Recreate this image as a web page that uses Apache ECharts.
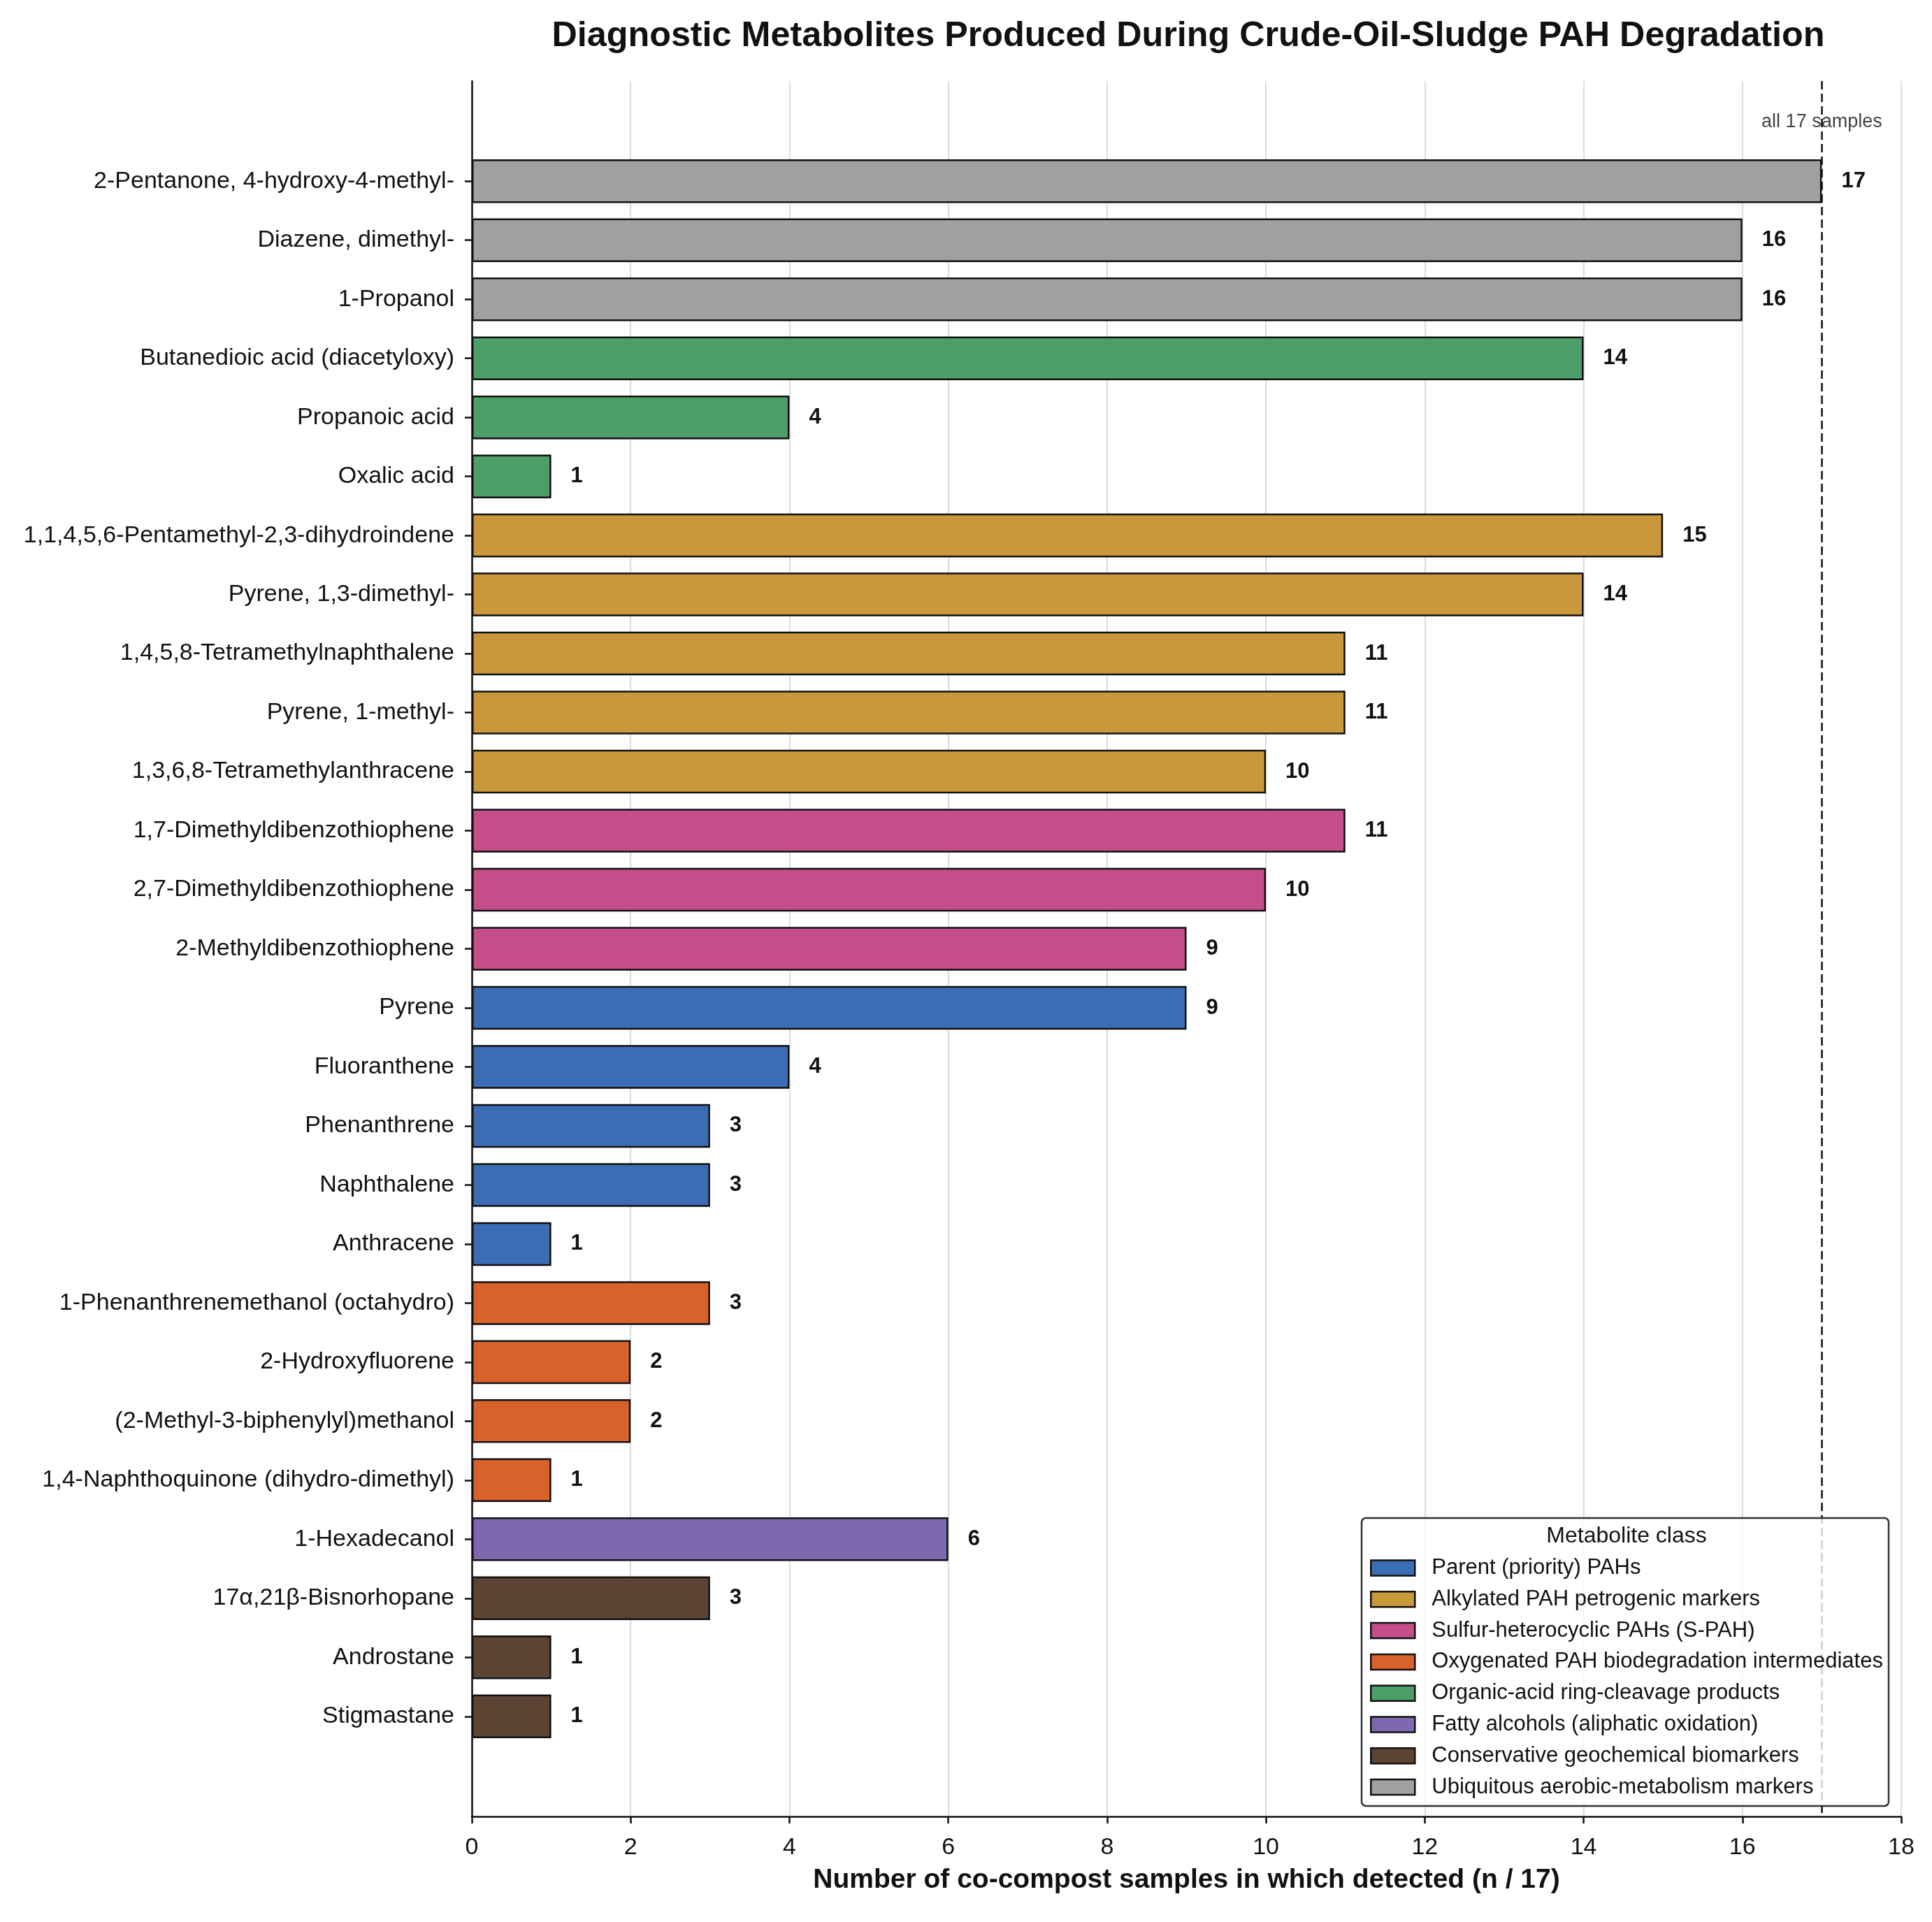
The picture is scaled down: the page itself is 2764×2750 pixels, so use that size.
<!DOCTYPE html>
<html>
<head>
<meta charset="utf-8">
<title>Diagnostic Metabolites</title>
<script src="https://cdn.jsdelivr.net/npm/echarts@6/dist/echarts.min.js"></script>
<style>
  html, body { margin: 0; padding: 0; background: #fff; }
  #chart { width: 2764px; height: 2750px; }
</style>
</head>
<body>
<div id="chart"></div>
<script>
// metabolites, top to bottom
var categories = [
  "2-Pentanone, 4-hydroxy-4-methyl-",
  "Diazene, dimethyl-",
  "1-Propanol",
  "Butanedioic acid (diacetyloxy)",
  "Propanoic acid",
  "Oxalic acid",
  "1,1,4,5,6-Pentamethyl-2,3-dihydroindene",
  "Pyrene, 1,3-dimethyl-",
  "1,4,5,8-Tetramethylnaphthalene",
  "Pyrene, 1-methyl-",
  "1,3,6,8-Tetramethylanthracene",
  "1,7-Dimethyldibenzothiophene",
  "2,7-Dimethyldibenzothiophene",
  "2-Methyldibenzothiophene",
  "Pyrene",
  "Fluoranthene",
  "Phenanthrene",
  "Naphthalene",
  "Anthracene",
  "1-Phenanthrenemethanol (octahydro)",
  "2-Hydroxyfluorene",
  "(2-Methyl-3-biphenylyl)methanol",
  "1,4-Naphthoquinone (dihydro-dimethyl)",
  "1-Hexadecanol",
  "17α,21β-Bisnorhopane",
  "Androstane",
  "Stigmastane"
];

var counts = [17, 16, 16, 14, 4, 1, 15, 14, 11, 11, 10, 11, 10, 9, 9, 4, 3, 3, 1, 3, 2, 2, 1, 6, 3, 1, 1];

// class index of each metabolite (index into classNames)
var classOf = [7, 7, 7, 4, 4, 4, 1, 1, 1, 1, 1, 2, 2, 2, 0, 0, 0, 0, 0, 3, 3, 3, 3, 5, 6, 6, 6];

var classNames = [
  "Parent (priority) PAHs",
  "Alkylated PAH petrogenic markers",
  "Sulfur-heterocyclic PAHs (S-PAH)",
  "Oxygenated PAH biodegradation intermediates",
  "Organic-acid ring-cleavage products",
  "Fatty alcohols (aliphatic oxidation)",
  "Conservative geochemical biomarkers",
  "Ubiquitous aerobic-metabolism markers"
];

var classColors = ["#3b6db4", "#c9983b", "#c44d8a", "#d9622c", "#4e9e69", "#7e69b0", "#5b4433", "#a0a0a0"];

var xTicks = [0, 2, 4, 6, 8, 10, 12, 14, 16, 18];
var totalSamples = 17;

var FONT = "Liberation Sans";
var chart = echarts.init(document.getElementById("chart"));

var barSeries = classNames.map(function (name, k) {
  return {
    name: name,
    type: "bar",
    xAxisIndex: 1,
    yAxisIndex: 1,
    barWidth: "74%",
    barGap: "-100%",
    itemStyle: { color: classColors[k], borderColor: "#111", borderWidth: 2.5 },
    label: {
      show: true, position: "right", distance: 28,
      fontFamily: FONT, fontSize: 31, fontWeight: "bold", color: "#111"
    },
    data: counts.map(function (v, i) { return classOf[i] === k ? v : "-"; })
  };
});

var nCat = categories.length;
var pad = 1.69;

var option = {
  backgroundColor: "#fff",
  animation: false,
  textStyle: { fontFamily: FONT },
  title: {
    text: "Diagnostic Metabolites Produced During Crude-Oil-Sludge PAH Degradation",
    left: 1695, top: 22, textAlign: "center",
    textStyle: { fontFamily: FONT, fontSize: 50.3, fontWeight: "bold", color: "#111" }
  },
  grid: [
    { left: 675, right: 44, top: 116, bottom: 151 },
    { left: 675, right: 44, top: 217, bottom: 252 }
  ],
  xAxis: [
    {
      gridIndex: 0, type: "value", min: xTicks[0], max: xTicks[xTicks.length - 1], interval: 2,
      name: "Number of co-compost samples in which detected (n / " + totalSamples + ")",
      nameLocation: "middle", nameGap: 72,
      nameTextStyle: { fontFamily: FONT, fontSize: 39, fontWeight: "bold", color: "#111" },
      axisLine: { show: true, onZero: false, lineStyle: { color: "#111", width: 2.5 } },
      axisTick: { show: true, length: 10, lineStyle: { color: "#111", width: 2.5 } },
      axisLabel: { fontFamily: FONT, fontSize: 34, color: "#111", margin: 28 },
      splitLine: { show: true, lineStyle: { color: "#dcdcdc", width: 2 } }
    },
    {
      gridIndex: 1, type: "value", min: xTicks[0], max: xTicks[xTicks.length - 1], interval: 2,
      show: false
    }
  ],
  yAxis: [
    {
      gridIndex: 0, type: "value", inverse: true, min: -pad, max: nCat - 1 + pad,
      axisLine: { show: true, onZero: false, lineStyle: { color: "#111", width: 2.5 } },
      axisTick: { show: false }, axisLabel: { show: false }, splitLine: { show: false }
    },
    {
      gridIndex: 1, type: "category", inverse: true, data: categories,
      axisLine: { show: false },
      axisTick: { show: true, alignWithLabel: true, length: 10, lineStyle: { color: "#111", width: 2.5 } },
      axisLabel: { interval: 0, fontFamily: FONT, fontSize: 34, color: "#111", margin: 25 }
    }
  ],
  legend: {
    orient: "vertical", left: 1960, top: 2228, padding: 0, z: 20,
    itemWidth: 63, itemHeight: 22, itemGap: 13.8,
    icon: "rect",
    data: classNames,
    itemStyle: { borderColor: "#111", borderWidth: 2.5 },
    textStyle: { fontFamily: FONT, fontSize: 31, color: "#111", lineHeight: 30, padding: [0, 0, 0, 19] }
  },
  graphic: [
    {
      type: "rect", z: 10,
      shape: { x: 1948, y: 2172, width: 754, height: 412, r: 6 },
      style: { fill: "rgba(255,255,255,0.8)", stroke: "#333", lineWidth: 2.5 }
    },
    {
      type: "text", z: 21, x: 2327, y: 2198,
      style: { text: "Metabolite class", font: "32px 'Liberation Sans'", fill: "#111",
        textAlign: "center", textVerticalAlign: "middle" }
    }
  ],
  series: barSeries.concat([
    {
      type: "scatter", xAxisIndex: 0, yAxisIndex: 0, symbolSize: 0, silent: true,
      data: [[totalSamples, -1.0]],
      label: { show: true, position: "inside", formatter: "all " + totalSamples + " samples",
        fontFamily: FONT, fontSize: 27, color: "#111" },
      markLine: {
        silent: true, symbol: "none", label: { show: false },
        lineStyle: { type: [12, 6], color: "#111", width: 2.5 },
        data: [{ xAxis: totalSamples }]
      }
    }
  ])
};

chart.setOption(option);
</script>
</body>
</html>
